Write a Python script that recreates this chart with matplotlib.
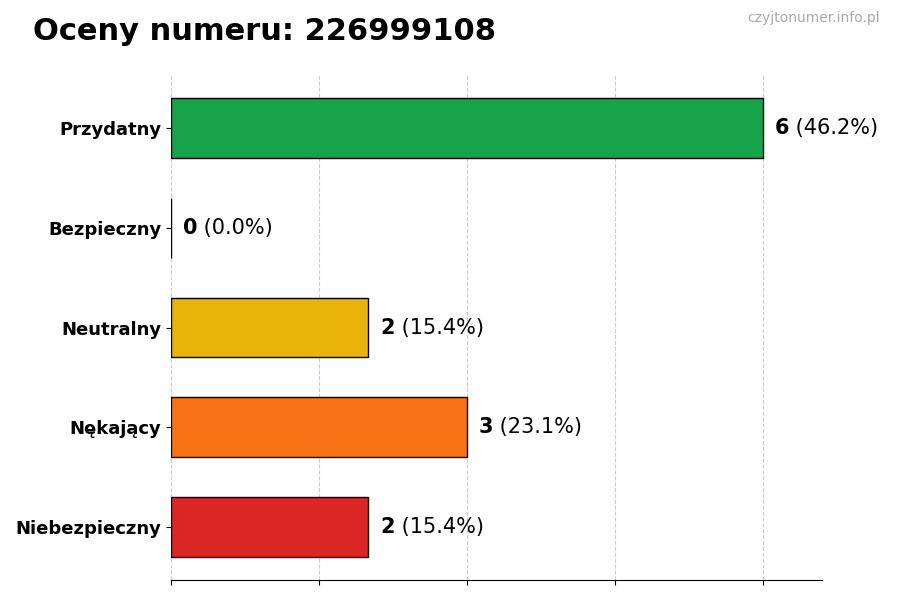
import matplotlib
matplotlib.use("Agg")
import matplotlib.pyplot as plt

# data
categories = ["Niebezpieczny", "Nękający", "Neutralny", "Bezpieczny", "Przydatny"]
counts = [2, 3, 2, 0, 6]
colors = ["#dc2626", "#f97316", "#eab308", "#3b82f6", "#16a34a"]
number = "226999108"

total = sum(counts)

fig = plt.figure(figsize=(9, 6), dpi=100)
ax = fig.add_axes([0.19, 0.0333, 0.723, 0.8417])

ypos = range(len(categories))
ax.barh(ypos, counts, height=0.6, color=colors, edgecolor="black", linewidth=1, zorder=3)

ax.set_xlim(0, max(counts) * 1.1)
ax.set_xticks([0, 1.5, 3, 4.5, 6])
ax.set_xticklabels([])
ax.set_yticks(list(ypos))
ax.set_yticklabels(categories, fontsize=13, fontweight="bold")
ax.grid(axis="x", linestyle="--", color="#cccccc", linewidth=0.8, zorder=0)
for s in ["top", "right", "left"]:
    ax.spines[s].set_visible(False)

for y, c in zip(ypos, counts):
    pct = c / total * 100
    t = ax.text(c + 0.12, y, str(c), fontsize=15, fontweight="bold", va="center", ha="left", zorder=4)
    ax.annotate(" (%.1f%%)" % pct, xy=(1, 0.5), xycoords=t, fontsize=15, va="center", ha="left")

fig.text(0.037, 0.948, "Oceny numeru: " + number, fontsize=22, fontweight="bold", va="center", ha="left")
fig.text(0.978, 0.97, "czyjtonumer.info.pl", fontsize=10, color="#aaaaaa", va="center", ha="right")

fig.savefig("out.png", dpi=100)
